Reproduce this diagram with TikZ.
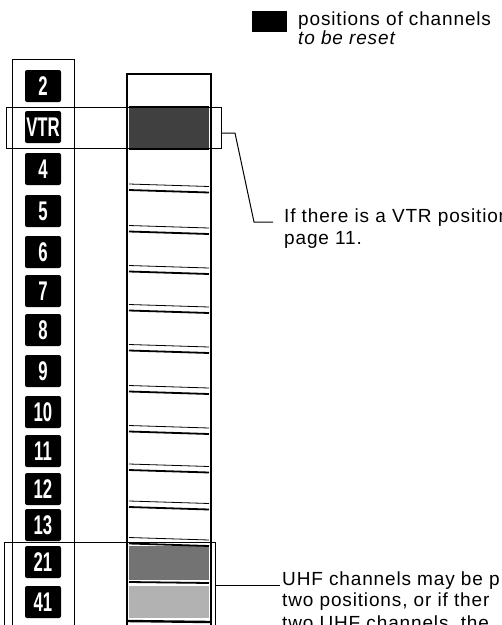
\documentclass[tikz,border=0pt]{standalone}
\usepackage{fontspec}
\setmainfont{Liberation Sans}
\newfontfamily\notefont{Liberation Sans}[LetterSpace=4.5]
\begin{document}
\begin{tikzpicture}[x=1pt,y=-1pt,
  numbox/.style={fill=black, rounded corners=2pt, minimum width=36pt, minimum height=32pt, inner sep=0pt, text=white, font=\fontsize{27}{27}\selectfont\bfseries},
  lbl/.style={anchor=base west, inner sep=0pt, font=\notefont\fontsize{19}{19}\selectfont},
  selframe/.style={draw=black, line width=1pt, inner sep=0pt, anchor=north west},
  tapeline/.style={line width=2.6pt},
  thinsep/.style={line width=0.8pt},
  thicksep/.style={line width=1.8pt},
  conn/.style={line width=1pt},
  ]
\useasboundingbox (0,0) rectangle (502,625);
\clip (0,0) rectangle (502,625);

% legend
\node[fill=black, minimum width=35pt, minimum height=21pt, inner sep=0pt, anchor=north west] (legbox) at (252,11) {};
\node[lbl] (leg1) at (298,25) {positions of channels};
\node[lbl, font=\notefont\fontsize{19}{19}\selectfont\itshape] (leg2) at (298,44) {to be reset};

% left column frame
\node[selframe, minimum width=62pt, minimum height=590pt] (colframe) at (12,59) {};

% tape shading
\fill[black!75] (129,108) rectangle (209,148);
\fill[black!55] (129,546) rectangle (209,580);
\fill[black!30] (129,586) rectangle (209,618);

% tape outline
\draw[tapeline] (127,640) -- (127,74) -- (211,74) -- (211,640);
\draw[thicksep] (129,107) -- (209,107);
\draw[thicksep] (129,149) -- (209,149);
\foreach \m in {190,231.5,271.5,310.5,350.5,391.5,431.5,470,507,543.5} {
  \draw[thinsep] (129,\m-6) -- (209,\m-3.5);
  \draw[thicksep] (129,\m) -- (209,\m+2.5);
}
\draw[thicksep] (129,582) -- (209,583);
\draw[line width=2.4pt] (127,621) -- (210,622);

% selection frames
\node[selframe, minimum width=215pt, minimum height=41pt] (vtrsel) at (6,107) {};
\node[selframe, minimum width=211pt, minimum height=100pt] (uhfsel) at (4,542) {};

% channel number boxes
\foreach \lab/\yy/\nm in {2/86/n2, VTR/127/nvtr, 4/169/n4, 5/211/n5, 6/252/n6, 7/291/n7, 8/330/n8, 9/371/n9, 10/412/n10, 11/451/n11, 12/489/n12, 13/525/n13, 21/562/n21, 41/602/n41} {
  \node[numbox] (\nm) at (43,\yy) {\scalebox{0.62}[1]{\lab}};
}

% notes
\node[lbl] (vtrnote1) at (284,222) {If there is a VTR position};
\node[lbl] (vtrnote2) at (284,244) {page 11.};
\node[lbl] (uhfnote1) at (282,585) {UHF channels may be p};
\node[lbl] (uhfnote2) at (282,606) {two positions, or if ther};
\node[lbl] (uhfnote3) at (282,629) {two UHF channels, the};

% connectors
\coordinate (k1) at (235,133);
\coordinate (k2) at (254,222);
\coordinate (k3) at (273,222);
\draw[conn] (vtrsel.east |- k1) -- (k1) -- (k2) -- (k3);
\coordinate (u1) at (280,585);
\draw[conn] (uhfsel.east |- u1) -- (u1);
\end{tikzpicture}
\end{document}
